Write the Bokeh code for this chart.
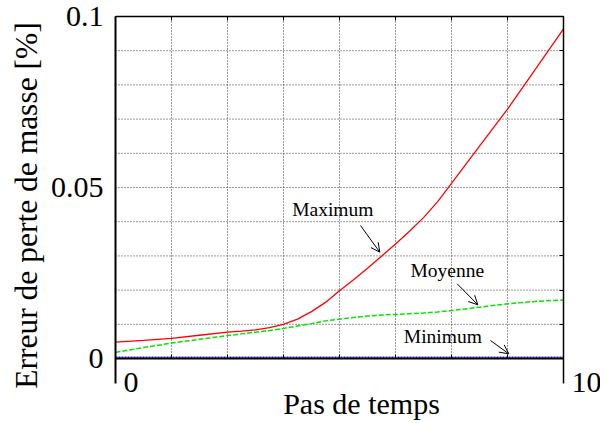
import math
from bokeh.plotting import figure
from bokeh.models import Label, Arrow, OpenHead, FixedTicker, LinearAxis, Range1d
from bokeh.embed import file_html
from bokeh.resources import INLINE

# ---- data ----
steps = [0, 0.625, 1.25, 1.875, 2.5, 2.8125, 3.125, 3.4375, 3.75, 4.0625, 4.375,
         4.6875, 5.0, 5.3125, 5.625, 5.9375, 6.25, 6.5625, 6.875, 7.1875, 7.5,
         8.125, 8.75, 9.375, 10]
maximum = [0.0048, 0.0053, 0.0059, 0.0068, 0.0077, 0.0080, 0.0084, 0.0090, 0.0100,
           0.0115, 0.0137, 0.0164, 0.0198, 0.0230, 0.0264, 0.0299, 0.0335, 0.0372,
           0.0412, 0.0458, 0.0512, 0.0621, 0.0729, 0.0846, 0.0964]
moyenne = [0.0018, 0.0032, 0.0045, 0.0056, 0.0067, 0.0072, 0.0077, 0.0082, 0.0088,
           0.0095, 0.0102, 0.0110, 0.0115, 0.0120, 0.0124, 0.0127, 0.0129, 0.0131,
           0.0133, 0.0136, 0.0140, 0.0150, 0.0160, 0.0167, 0.0171]
minimum = [0.0003, 0.0003, 0.0003, 0.0003, 0.0003, 0.0003, 0.0003, 0.0003, 0.0003,
           0.0003, 0.0003, 0.0003, 0.0003, 0.0003, 0.0003, 0.0003, 0.0003, 0.0003,
           0.0003, 0.0003, 0.0003, 0.0003, 0.0003, 0.0003, 0.0003]

x_ticks = [0, 10]
x_tick_labels = ["0", "10"]
y_ticks = [0, 0.05, 0.1]
y_tick_labels = ["0", "0.05", "0.1"]
x_grid = [0, 1.25, 2.5, 3.75, 5.0, 6.25, 7.5, 8.75, 10]
y_grid = [0, 0.01, 0.02, 0.03, 0.04, 0.05, 0.06, 0.07, 0.08, 0.09, 0.1]

x_label = "Pas de temps"
y_label = "Erreur de perte de masse [%]"
series_names = ["Maximum", "Moyenne", "Minimum"]

FONT = "Liberation Serif"

# ---- layout (pixels) ----
W, H = 600, 420
FL, FR, FT, FB = 115.0, 563.0, 16.0, 358.0   # plot box edges on the canvas
X0, X1 = x_grid[0], x_grid[-1]
Y0, Y1 = y_grid[0], y_grid[-1]
sx = (FR - FL) / (X1 - X0)
sy = (FB - FT) / (Y1 - Y0)
x_start, x_end = X0 - FL / sx, X0 + (W - FL) / sx
y_start, y_end = Y0 - (H - FB) / sy, Y1 + FT / sy
BASE_SHIFT = 0.36   # correction (in em) so that labels sit on the wanted baseline


def dx(px):
    return x_start + px / sx


def dy(py):
    return y_end - py / sy


def text_y(baseline_px, size):
    return dy(baseline_px - BASE_SHIFT * size)


p = figure(width=W, height=H, x_range=Range1d(x_start, x_end), y_range=Range1d(y_start, y_end),
           x_axis_type=None, y_axis_type=None, output_backend="svg", toolbar_location=None,
           min_border_left=0, min_border_right=0, min_border_top=0, min_border_bottom=0)
p.title.text = ""
p.title.visible = False
p.background_fill_color = "white"
p.border_fill_color = "white"
p.outline_line_color = None

# dotted grid inside the plot box
n = len(x_grid)
m = len(y_grid)
p.segment(x0=x_grid, y0=[Y0] * n, x1=x_grid, y1=[Y1] * n,
          line_color="#333333", line_width=1, line_dash="1 2")
p.segment(x0=[X0] * m, y0=y_grid, x1=[X1] * m, y1=y_grid,
          line_color="#333333", line_width=1, line_dash="1 2")

# left axis (extends below the box like the reference)
ya = LinearAxis(fixed_location=X0, bounds=(dy(383), Y1),
                ticker=FixedTicker(ticks=y_ticks),
                major_label_overrides={t: s for t, s in zip(y_ticks, y_tick_labels)},
                major_label_text_font=FONT, major_label_text_font_size="30px",
                major_label_text_color="black", major_label_standoff=12,
                major_tick_in=0, major_tick_out=0, minor_tick_line_color=None,
                axis_line_width=2, axis_line_color="black")
p.add_layout(ya, "left")

# bottom axis (inner ticks only; its labels are placed below)
xa = LinearAxis(fixed_location=Y0, bounds=(X0, X1),
                ticker=FixedTicker(ticks=[], minor_ticks=x_grid),
                major_tick_in=0, major_tick_out=0,
                minor_tick_in=4, minor_tick_out=0, minor_tick_line_color="black",
                axis_line_width=2, axis_line_color="black")
p.add_layout(xa, "below")

# right and top borders with inner ticks
ra = LinearAxis(fixed_location=X1, bounds=(dy(383), Y1),
                ticker=FixedTicker(ticks=[], minor_ticks=y_grid),
                major_tick_in=0, major_tick_out=0,
                minor_tick_in=4, minor_tick_out=0, minor_tick_line_color="black",
                axis_line_color="black", axis_line_width=1.5)
ta = LinearAxis(fixed_location=Y1, bounds=(X0, X1),
                ticker=FixedTicker(ticks=[], minor_ticks=x_grid),
                major_tick_in=0, major_tick_out=0,
                minor_tick_in=4, minor_tick_out=0, minor_tick_line_color="black",
                axis_line_color="black", axis_line_width=1.5)
p.add_layout(ra, "right")
p.add_layout(ta, "above")

# series
p.line(steps, maximum, line_color="#ff0000", line_width=1.3)
p.line(steps, moyenne, line_color="#00e600", line_width=1.5, line_dash="5 2")
p.line(steps, minimum, line_color="#2020ff", line_width=2, line_dash="2 1")

# x tick labels (left-aligned just right of their tick)
for t, s in zip(x_ticks, x_tick_labels):
    p.add_layout(Label(x=t, y=text_y(393, 30), x_offset=8, text=s, text_font=FONT,
                       text_font_size="30px", text_color="black",
                       text_align="left", text_baseline="alphabetic"))

# axis titles
p.add_layout(Label(x=dx(361), y=text_y(413.3, 30), text=x_label, text_font=FONT,
                   text_font_size="30px", text_color="black",
                   text_align="center", text_baseline="alphabetic"))
YL_SIZE = 31.5
p.add_layout(Label(x=dx(37 - BASE_SHIFT * YL_SIZE), y=dy(205), angle=math.pi / 2,
                   text=y_label, text_font=FONT, text_font_size=f"{YL_SIZE}px",
                   text_color="black", text_align="center", text_baseline="alphabetic"))

# annotations
label_px = [(291.7, 216.0), (410.0, 276.7), (403.3, 342.7)]
arrow_px = [((360.0, 225.0), (379.3, 251.7)),
            ((456.7, 283.3), (477.3, 304.3)),
            ((490.0, 340.0), (508.3, 353.3))]
for name, (lx, ly), ((ax0, ay0), (ax1, ay1)) in zip(series_names, label_px, arrow_px):
    p.add_layout(Label(x=dx(lx), y=text_y(ly, 19.5), text=name, text_font=FONT,
                       text_font_size="19.5px", text_color="black",
                       text_align="left", text_baseline="alphabetic"))
    p.add_layout(Arrow(x_start=dx(ax0), y_start=dy(ay0), x_end=dx(ax1), y_end=dy(ay1),
                       line_width=1, line_color="black",
                       end=OpenHead(size=9, line_width=1, line_color="black")))

open("out.html", "w").write(file_html(p, INLINE))
